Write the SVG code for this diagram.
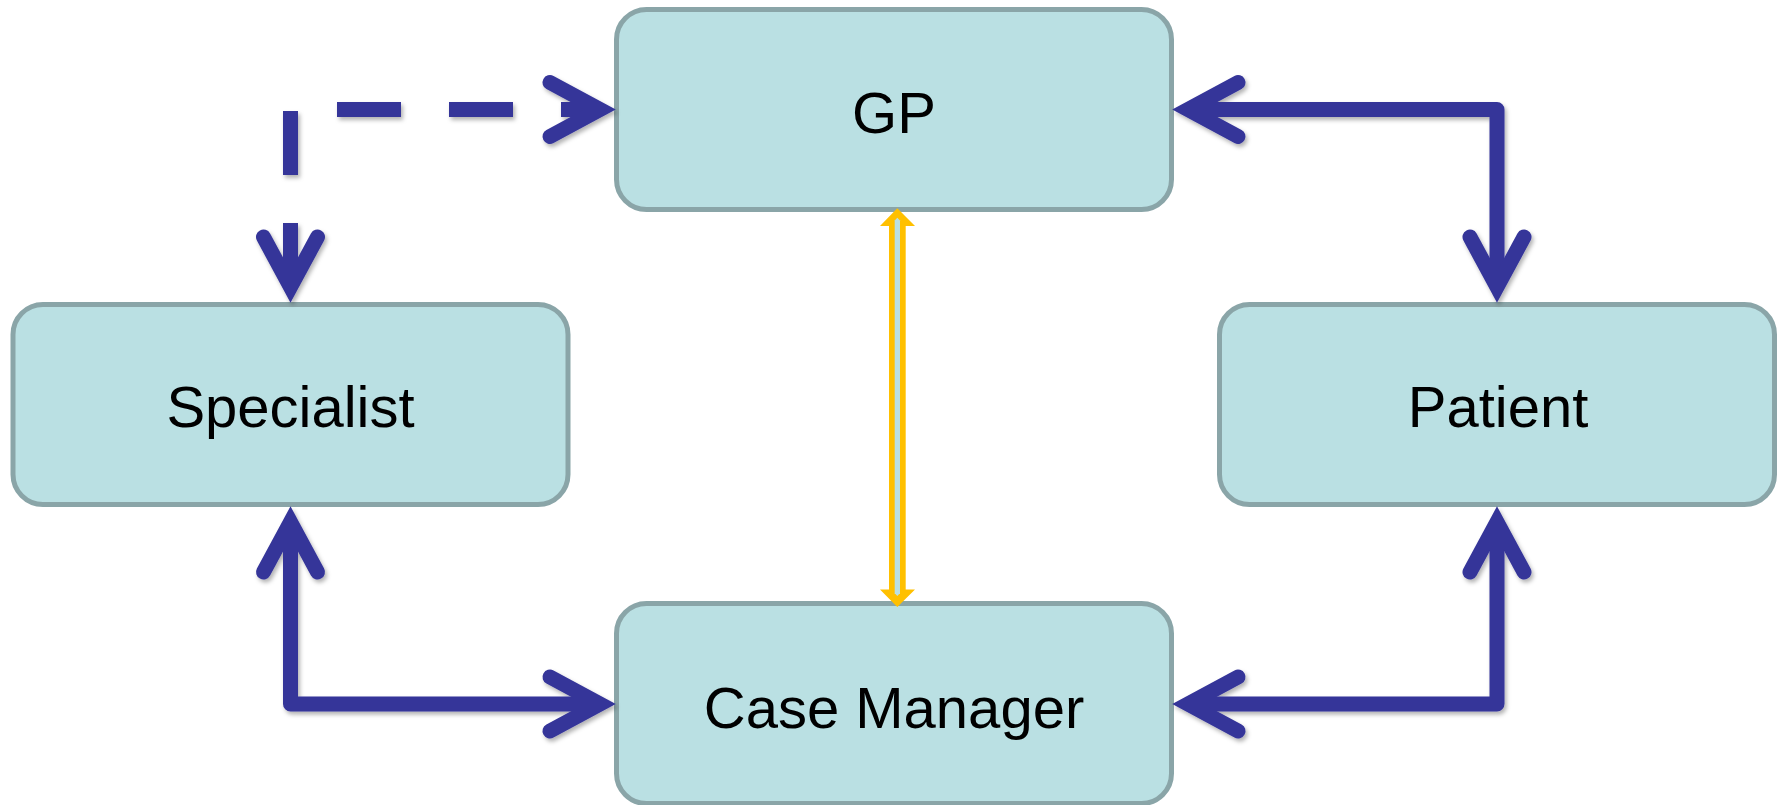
<svg xmlns="http://www.w3.org/2000/svg" width="1781" height="805" viewBox="0 0 1781 805">
  <style>
    .box { fill: #bae0e3; stroke: #8aa5a8; stroke-width: 5; }
    .label { font-family: "Liberation Sans", Arial, Helvetica, sans-serif; font-size: 58px; fill: #000; text-anchor: middle; }
    .conn { fill: none; stroke: #353599; stroke-width: 15; stroke-linejoin: round; }
    .dash { stroke-dasharray: 64 48; stroke-linejoin: miter; }
    .chev { fill: none; stroke: #353599; stroke-width: 15; stroke-linecap: round; stroke-linejoin: miter; stroke-miterlimit: 6; }
  </style>
  <defs>
    <marker id="chev" viewBox="-70 -45 100 90" refX="0" refY="0" markerWidth="100" markerHeight="90" markerUnits="userSpaceOnUse" orient="auto-start-reverse" overflow="visible">
      <path class="chev" d="M -50,-27 L 0,0 L -50,27"/>
    </marker>
    <filter id="shadow" x="-10%" y="-10%" width="120%" height="120%">
      <feDropShadow dx="2" dy="3" stdDeviation="2" flood-color="#000" flood-opacity="0.3"/>
    </filter>
  </defs>

  <g id="node-gp">
    <rect class="box" x="616.5" y="9.5" width="555" height="200" rx="30" ry="30"/>
    <text class="label" x="894" y="132.7">GP</text>
  </g>
  <g id="node-specialist">
    <rect class="box" x="13" y="304.5" width="555" height="200" rx="30" ry="30"/>
    <text class="label" x="290.5" y="426.7">Specialist</text>
  </g>
  <g id="node-patient">
    <rect class="box" x="1219.5" y="304.5" width="555" height="200" rx="30" ry="30"/>
    <text class="label" x="1498" y="426.7">Patient</text>
  </g>
  <g id="node-case-manager">
    <rect class="box" x="616.5" y="603.5" width="555" height="200" rx="30" ry="30"/>
    <text class="label" x="894" y="728">Case Manager</text>
  </g>

  <g id="connectors">
    <g filter="url(#shadow)">
      <path class="conn" d="M 1188,109.5 H 1497 V 287" marker-start="url(#chev)" marker-end="url(#chev)"/>
      <path class="conn" d="M 1497,522 V 704 H 1188" marker-start="url(#chev)" marker-end="url(#chev)"/>
      <path class="conn" d="M 290.5,522 V 704 H 600" marker-start="url(#chev)" marker-end="url(#chev)"/>
      <path class="conn dash" d="M 290.5,287 V 109.5 H 600" marker-start="url(#chev)" marker-end="url(#chev)"/>
    </g>
    <g id="gp-cm-link">
      <polygon fill="#ffc000" points="897.3,208.3 915,226 905.7,226 905.7,589.5 915,589.5 897.3,607 880,589.5 889,589.5 889,226 880,226"/>
      <polygon fill="#bae0e3" points="897.3,217.7 900,220.4 900,593.3 897.3,596 894.7,593.3 894.7,220.4"/>
    </g>
  </g>
</svg>
